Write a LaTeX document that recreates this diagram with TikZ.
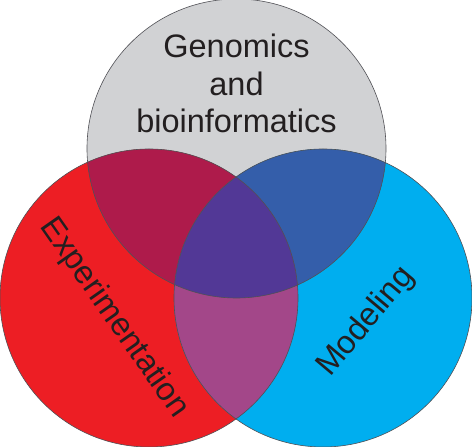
\documentclass[tikz,border=0pt]{standalone}
\usepackage{fontspec}
\setmainfont{Liberation Sans}
\definecolor{cgray}{RGB}{209,210,212}
\definecolor{cred}{RGB}{237,30,36}
\definecolor{cblue}{RGB}{0,174,239}
\definecolor{crg}{RGB}{174,27,75}
\definecolor{cgb}{RGB}{52,94,170}
\definecolor{crb}{RGB}{163,71,137}
\definecolor{call}{RGB}{82,56,150}
\definecolor{cedge}{RGB}{80,80,85}
\definecolor{ctext}{RGB}{35,31,32}
\begin{document}
\begin{tikzpicture}[x=1pt,y=1pt,
  edge/.style={draw=cedge,line width=0.6pt},
  lbl/.style={font=\fontsize{32.5}{37}\selectfont,text=ctext,inner sep=0pt}]
\useasboundingbox (0,0) rectangle (472,447);
\coordinate (G) at (236.5,298.5);
\coordinate (R) at (149,149);
\coordinate (B) at (323,149);
\def\rG{149.5}
\def\rR{149}
\def\rB{149}
\fill[cgray] (G) circle (\rG);
\fill[cred] (R) circle (\rR);
\fill[cblue] (B) circle (\rB);
\begin{scope}
  \clip (G) circle (\rG);
  \fill[crg] (R) circle (\rR);
  \fill[cgb] (B) circle (\rB);
  \clip (R) circle (\rR);
  \fill[call] (B) circle (\rB);
\end{scope}
\begin{scope}
  \clip (R) circle (\rR);
  \clip (B) circle (\rB);
  \fill[crb] (0,0) rectangle (472,447);
  \clip (G) circle (\rG);
  \fill[call] (0,0) rectangle (472,447);
\end{scope}
\draw[edge] (G) circle (\rG);
\draw[edge] (R) circle (\rR);
\draw[edge] (B) circle (\rB);
\node[lbl,anchor=base] (t1) at (236.5,389) {Genomics};
\node[lbl,anchor=base] (t2) at (236.5,351) {and};
\node[lbl,anchor=base] (t3) at (236.5,314) {bioinformatics};
\node[lbl,rotate=-55] (te) at (114,129) {Experimentation};
\node[lbl,rotate=50] (tm) at (366,125) {Modeling};
\end{tikzpicture}
\end{document}
